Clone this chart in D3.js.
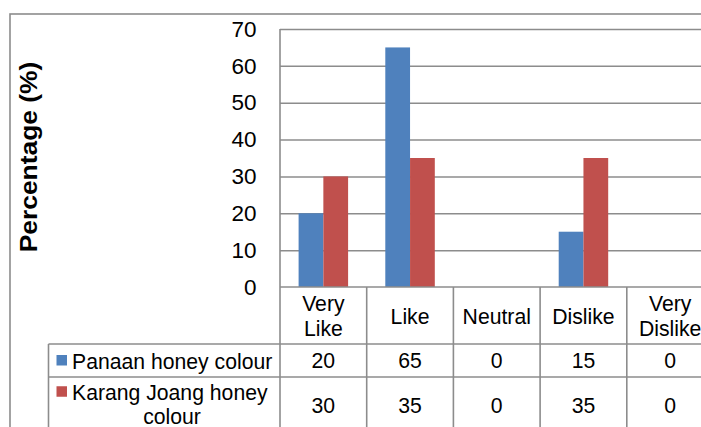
<!DOCTYPE html>
<html>
<head>
<meta charset="utf-8">
<script src="https://cdn.jsdelivr.net/npm/d3@7"></script>
<style>
  html, body { margin: 0; padding: 0; background: #fff; }
  svg { display: block; font-family: "Liberation Sans", Arial, sans-serif; }
</style>
</head>
<body>
<svg id="chart" width="701" height="427"></svg>
<script>
// Survey responses on honey colour preference (percent)
const categories = [["Very", "Like"], ["Like"], ["Neutral"], ["Dislike"], ["Very", "Dislike"]];
const seriesNames = [["Panaan honey colour"], ["Karang Joang honey", "colour"]];
const panaan = [20, 65, 0, 15, 0];
const karangJoang = [30, 35, 0, 35, 0];
const yTicks = [0, 10, 20, 30, 40, 50, 60, 70];
const colours = ["#4F81BD", "#C0504D"];

const series = [panaan, karangJoang];
const catKeys = categories.map(c => c.join(" "));

const svg = d3.select("#chart");
const lineColour = "#8c8c8c";

const plotLeft = 280, plotTop = 29, plotBottom = 287;
const colW = 86.7;
const plotRight = plotLeft + colW * categories.length;

const x0 = d3.scaleBand().domain(catKeys).range([plotLeft, plotRight]).padding(0);
const x1 = d3.scaleBand().domain(d3.range(series.length))
  .range([18.6, colW - 18.6]).padding(0);
const y = d3.scaleLinear().domain([0, 70]).range([plotBottom, plotTop]);

// outer chart frame
svg.append("rect")
  .attr("x", 10).attr("y", 14)
  .attr("width", 760).attr("height", 500)
  .attr("fill", "none").attr("stroke", lineColour).attr("stroke-width", 1.6);

// horizontal gridlines
const grid = svg.append("g")
  .attr("transform", `translate(${plotLeft},0)`)
  .call(d3.axisRight(y).tickValues(yTicks.filter(t => t > 0)).tickSize(plotRight - plotLeft).tickFormat(""));
grid.select(".domain").remove();
grid.selectAll(".tick line").attr("stroke", lineColour).attr("stroke-width", 1.5);

// y tick labels
const yAxis = svg.append("g")
  .attr("transform", "translate(256.5,0)")
  .call(d3.axisLeft(y).tickValues(yTicks).tickSize(0).tickPadding(0));
yAxis.select(".domain").remove();
yAxis.selectAll(".tick text")
  .attr("font-family", "Liberation Sans, Arial, sans-serif")
  .attr("font-size", 22.5).attr("fill", "#000");

// y axis title
svg.append("text")
  .attr("transform", "translate(28,157) rotate(-90) scale(1.1,1)")
  .attr("text-anchor", "middle").attr("dominant-baseline", "central")
  .attr("font-weight", "bold").attr("font-size", 24)
  .text("Percentage (%)");

// bars
const groups = svg.append("g").selectAll("g")
  .data(catKeys)
  .join("g")
  .attr("transform", d => `translate(${x0(d)},0)`);
groups.selectAll("rect")
  .data((d, i) => series.map((s, j) => ({ j, v: s[i] })))
  .join("rect")
  .attr("x", d => x1(d.j))
  .attr("width", x1.bandwidth())
  .attr("y", d => y(d.v))
  .attr("height", d => y(0) - y(d.v))
  .attr("fill", d => colours[d.j]);

// value axis line and category axis line
svg.append("line")
  .attr("x1", plotLeft).attr("x2", plotLeft).attr("y1", plotTop).attr("y2", 440)
  .attr("stroke", lineColour).attr("stroke-width", 1.6);
svg.append("line")
  .attr("x1", plotLeft).attr("x2", plotRight).attr("y1", plotBottom).attr("y2", plotBottom)
  .attr("stroke", lineColour).attr("stroke-width", 1.6);

// data table
const tableLeft = 48.5;
const headerBottom = 344, row1Bottom = 377, row2Bottom = 434;
const rowTops = [headerBottom, row1Bottom];
const rowBottoms = [row1Bottom, row2Bottom];

const table = svg.append("g").attr("stroke", lineColour).attr("stroke-width", 1.6);
table.append("line").attr("x1", tableLeft).attr("x2", plotRight).attr("y1", headerBottom).attr("y2", headerBottom);
table.append("line").attr("x1", tableLeft).attr("x2", plotRight).attr("y1", row1Bottom).attr("y2", row1Bottom);
table.append("line").attr("x1", tableLeft).attr("x2", tableLeft).attr("y1", headerBottom).attr("y2", 440);
table.selectAll("line.col")
  .data(catKeys.slice(1).concat(["end"]))
  .join("line").attr("class", "col")
  .attr("x1", (d, i) => plotLeft + colW * (i + 1))
  .attr("x2", (d, i) => plotLeft + colW * (i + 1))
  .attr("y1", plotBottom).attr("y2", 440);

const fs = 21.2, lh = 24.5;

// category headers
svg.append("g").selectAll("text")
  .data(categories)
  .join("text")
  .attr("text-anchor", "middle").attr("font-size", fs)
  .attr("x", (d, i) => x0(catKeys[i]) + colW / 2)
  .attr("y", d => (plotBottom + headerBottom) / 2 - (d.length - 1) * lh / 2)
  .attr("dominant-baseline", "central")
  .each(function (d) {
    const t = d3.select(this);
    d.forEach((line, k) => t.append("tspan")
      .attr("x", t.attr("x")).attr("dy", k === 0 ? 0 : lh).text(line));
  });

// legend cells
seriesNames.forEach((lines, j) => {
  const cy = (rowTops[j] + rowBottoms[j]) / 2 - (lines.length - 1) * lh / 2 - (j === 1 ? 1.5 : 0);
  svg.append("rect")
    .attr("x", 56.5).attr("y", cy - 5.5)
    .attr("width", 10.5).attr("height", 10.5)
    .attr("fill", colours[j]);
  const t = svg.append("text").attr("font-size", fs).attr("dominant-baseline", "central");
  lines.forEach((line, k) => {
    if (k === 0) t.append("tspan").attr("x", 72).attr("y", cy).text(line);
    else t.append("tspan").attr("x", 172).attr("text-anchor", "middle").attr("y", cy + lh * k).text(line);
  });
});

// value cells
series.forEach((s, j) => {
  svg.append("g").selectAll("text")
    .data(s)
    .join("text")
    .attr("text-anchor", "middle").attr("font-size", fs)
    .attr("dominant-baseline", "central")
    .attr("x", (d, i) => x0(catKeys[i]) + colW / 2)
    .attr("y", j === 0 ? 360 : 405)
    .text(d => d);
});
</script>
</body>
</html>
